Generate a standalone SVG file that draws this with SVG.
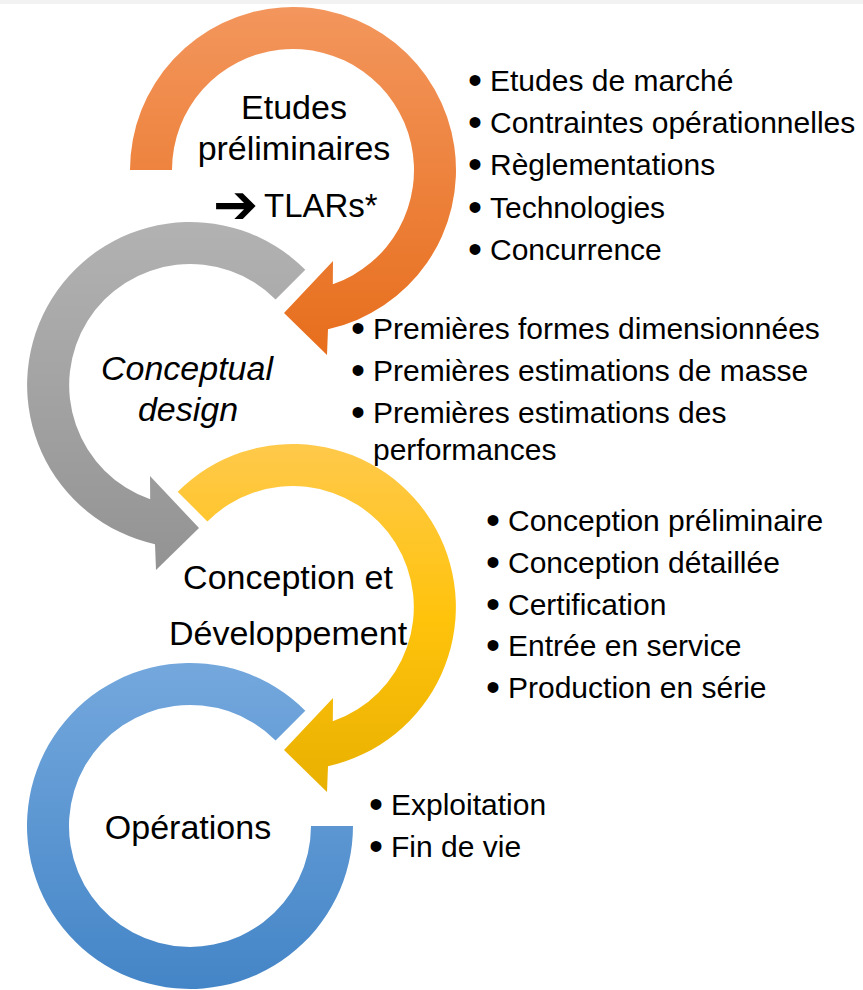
<svg xmlns="http://www.w3.org/2000/svg" width="863" height="990" viewBox="0 0 863 990">
  <defs>
    <linearGradient id="gOrange" x1="0" y1="0" x2="0" y2="1">
      <stop offset="0" stop-color="#F3965D"/>
      <stop offset="1" stop-color="#E76E1C"/>
    </linearGradient>
    <linearGradient id="gGray" x1="0" y1="0" x2="0" y2="1">
      <stop offset="0" stop-color="#B2B2B2"/>
      <stop offset="1" stop-color="#939393"/>
    </linearGradient>
    <linearGradient id="gYellow" x1="0" y1="0" x2="0" y2="1">
      <stop offset="0" stop-color="#FFC94B"/>
      <stop offset="0.5" stop-color="#FFC30C"/>
      <stop offset="1" stop-color="#E8B000"/>
    </linearGradient>
    <linearGradient id="gBlue" x1="0" y1="0" x2="0" y2="1">
      <stop offset="0" stop-color="#74A8DD"/>
      <stop offset="1" stop-color="#4485C7"/>
    </linearGradient>
  </defs>
  <style>
    .lbl { font-family: "Liberation Sans", Arial, sans-serif; font-size: 34px; fill: #000; text-anchor: middle; }
    .lst { font-family: "Liberation Sans", Arial, sans-serif; font-size: 33px; fill: #000; text-anchor: start; }
    .it { font-style: italic; }
    .bl { font-family: "Liberation Sans", Arial, sans-serif; font-size: 30px; fill: #000; }
    .dot { font-size: 40px; }
    .arw { font-family: "DejaVu Sans", sans-serif; font-weight: bold; font-size: 54px; fill: #000; }
  </style>
  <rect x="0" y="0" width="863" height="990" fill="#FFFFFF"/>
  <rect x="0" y="0" width="863" height="4" fill="#F2F2F2"/>

  <g id="connectors"></g>

  <g id="node-operations">
    <path d="M353,826 A163,163 0 1 1 305.3,710.7 L275.6,740.4 A121,121 0 1 0 311,826 Z" fill="url(#gBlue)"/>
    <text class="lbl" x="188" y="839">Opérations</text>
    <text class="bl" x="369" y="818"><tspan class="dot">•</tspan><tspan x="391" y="815">Exploitation</tspan></text>
    <text class="bl" x="369" y="860"><tspan class="dot">•</tspan><tspan x="391" y="857">Fin de vie</tspan></text>
  </g>

  <g id="node-conception">
    <path d="M177.7,491.7 A163,163 0 1 1 328,766.2 L327,792 L284,750 L333,698 L332.8,721.3 A121,121 0 1 0 207.4,521.4 Z" fill="url(#gYellow)"/>
    <text class="lbl" x="288" y="589">Conception et</text>
    <text class="lbl" x="288" y="645">Développement</text>
    <text class="bl" x="486" y="534"><tspan class="dot">•</tspan><tspan x="508" y="531">Conception préliminaire</tspan></text>
    <text class="bl" x="486" y="576"><tspan class="dot">•</tspan><tspan x="508" y="573">Conception détaillée</tspan></text>
    <text class="bl" x="486" y="618"><tspan class="dot">•</tspan><tspan x="508" y="615">Certification</tspan></text>
    <text class="bl" x="486" y="659"><tspan class="dot">•</tspan><tspan x="508" y="656">Entrée en service</tspan></text>
    <text class="bl" x="486" y="701"><tspan class="dot">•</tspan><tspan x="508" y="698">Production en série</tspan></text>
  </g>

  <g id="node-conceptual">
    <path d="M305.3,269.7 A163,163 0 1 0 155,544.2 L156,570 L199,528 L150,476 L150.2,499.3 A121,121 0 1 1 275.6,299.4 Z" fill="url(#gGray)"/>
    <text class="lbl it" x="187" y="380" font-size="33">Conceptual</text>
    <text class="lbl it" x="188" y="421" font-size="33">design</text>
    <text class="bl" x="351" y="342"><tspan class="dot">•</tspan><tspan x="373" y="339">Premières formes dimensionnées</tspan></text>
    <text class="bl" x="351" y="384"><tspan class="dot">•</tspan><tspan x="373" y="381">Premières estimations de masse</tspan></text>
    <text class="bl" x="351" y="426"><tspan class="dot">•</tspan><tspan x="373" y="423">Premières estimations des</tspan></text>
    <text class="bl" x="373" y="460">performances</text>
  </g>

  <g id="node-etudes">
    <path d="M130,170 A163,163 0 1 1 328,329.2 L327,355 L284,313 L333,261 L332.8,284.3 A121,121 0 1 0 172,170 Z" fill="url(#gOrange)"/>
    <text class="lbl" x="294" y="119">Etudes</text>
    <text class="lbl" x="294" y="160">préliminaires</text>
    <text class="arw" x="213" y="223">➔</text>
    <text class="lst" x="264" y="217">TLARs*</text>
    <text class="bl" x="468" y="94"><tspan class="dot">•</tspan><tspan x="490" y="91">Etudes de marché</tspan></text>
    <text class="bl" x="468" y="136"><tspan class="dot">•</tspan><tspan x="490" y="133">Contraintes opérationnelles</tspan></text>
    <text class="bl" x="468" y="178"><tspan class="dot">•</tspan><tspan x="490" y="175">Règlementations</tspan></text>
    <text class="bl" x="468" y="221"><tspan class="dot">•</tspan><tspan x="490" y="218">Technologies</tspan></text>
    <text class="bl" x="468" y="263"><tspan class="dot">•</tspan><tspan x="490" y="260">Concurrence</tspan></text>
  </g>
</svg>
